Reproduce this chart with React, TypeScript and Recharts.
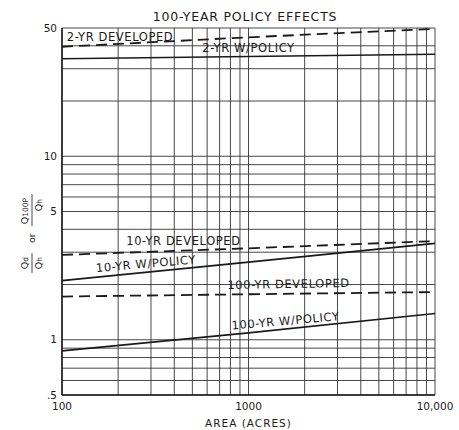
import React from 'react'
import { LineChart, Line, XAxis, YAxis, CartesianGrid, ReferenceDot, Label } from 'recharts'

// values
const areas = [100, 1000, 10000]
const dev2 = [39.5, 44.5, 49.5]
const policy2 = [34, 35, 36]
const dev10 = [2.9, 3.15, 3.45]
const policy10 = [2.1, 2.65, 3.35]
const dev100 = [1.72, 1.77, 1.82]
const policy100 = [0.87, 1.09, 1.39]

const xTicks = [100, 200, 300, 400, 500, 600, 700, 800, 900, 1000, 2000, 3000, 4000, 5000, 6000, 7000, 8000, 9000, 10000]
const yTicks = [0.5, 0.6, 0.7, 0.8, 0.9, 1, 2, 3, 4, 5, 6, 7, 8, 9, 10, 20, 30, 40, 50]
const xLabels: Record<number, string> = { 100: '100', 1000: '1000', 10000: '10,000' }
const yLabels: Record<number, string> = { 0.5: '.5', 1: '1', 5: '5', 10: '10', 50: '50' }

// curve names, placed in data units
const notes = [
  { text: '2-YR DEVELOPED', area: 106, value: 44.5, angle: 0, anchor: 'start' },
  { text: '2-YR W/POLICY', area: 565, value: 38.5, angle: 0, anchor: 'start' },
  { text: '10-YR DEVELOPED', area: 221, value: 3.42, angle: 0, anchor: 'start' },
  { text: '10-YR W/POLICY', area: 282, value: 2.58, angle: -5, anchor: 'middle' },
  { text: '100-YR DEVELOPED', area: 1640, value: 2.0, angle: -1, anchor: 'middle' },
  { text: '100-YR W/POLICY', area: 1580, value: 1.26, angle: -5, anchor: 'middle' },
]

const data = areas.map((area, i) => ({
  area,
  dev2: dev2[i],
  policy2: policy2[i],
  dev10: dev10[i],
  policy10: policy10[i],
  dev100: dev100[i],
  policy100: policy100[i],
}))

const FONT = '"DejaVu Sans", sans-serif'
const INK = '#1a1a1a'

function noteLabel(text: string, angle: number, anchor: string) {
  return (props: any) => {
    const { x, y, width, height } = props.viewBox
    const cx = x + width / 2
    const cy = y + height / 2
    return (
      <text x={cx} y={cy} textAnchor={anchor as any} dominantBaseline="middle"
        transform={`rotate(${angle} ${cx} ${cy})`}
        style={{ fontFamily: FONT, fontSize: 11.5, letterSpacing: 0.6, fill: INK }}>
        {text}
      </text>
    )
  }
}

function YTitle(props: any) {
  const { x, y, height } = props.viewBox
  const cx = x + 11
  const cy = y + height * 0.567
  const fs = 9.5
  return (
    <g transform={`translate(${cx} ${cy}) rotate(-90)`} style={{ fontFamily: FONT, fontSize: fs, fill: INK }}>
      <text x={-27} y={-4} textAnchor="middle">Q<tspan fontSize={7.5}>d</tspan></text>
      <line x1={-37} x2={-17} y1={0} y2={0} stroke={INK} strokeWidth={0.8} />
      <text x={-27} y={10} textAnchor="middle">Q<tspan fontSize={7.5}>h</tspan></text>
      <text x={-2} y={3} textAnchor="middle">or</text>
      <text x={25} y={-4} textAnchor="middle">Q<tspan fontSize={7.5}>100P</tspan></text>
      <line x1={10} x2={42} y1={0} y2={0} stroke={INK} strokeWidth={0.8} />
      <text x={31} y={10} textAnchor="middle">Q<tspan fontSize={7.5}>h</tspan></text>
    </g>
  )
}

export default function App() {
  return (
    <div style={{ position: 'absolute', left: 0, top: 0, width: 459, height: 430, background: '#fff' }}>
      <div style={{ position: 'absolute', left: 0, width: 490, top: 9, textAlign: 'center',
        fontFamily: FONT, fontSize: 12.5, letterSpacing: 0.8, color: INK }}>
        100-YEAR POLICY EFFECTS
      </div>
      <LineChart width={459} height={430} data={data}
        margin={{ top: 28, right: 24, bottom: 15, left: 21 }}>
        <CartesianGrid stroke="#333" strokeWidth={0.9} />
        <XAxis dataKey="area" type="number" scale="log" domain={[100, 10000]} ticks={xTicks}
          interval={0} tickFormatter={(v) => xLabels[v] ?? ''} tickLine={false} tickSize={0} tickMargin={8}
          axisLine={{ stroke: INK, strokeWidth: 1.5 }} height={20}
          tick={{ fontFamily: FONT, fontSize: 10.5, fill: INK }}>
          <Label value="AREA (ACRES)" position="insideBottom" offset={-12}
            style={{ fontFamily: FONT, fontSize: 10.5, letterSpacing: 1, fill: INK }} />
        </XAxis>
        <YAxis type="number" scale="log" domain={[0.5, 50]} ticks={yTicks} interval={0}
          tickFormatter={(v) => yLabels[v] ?? ''} tickLine={false} tickSize={0} tickMargin={5}
          axisLine={{ stroke: INK, strokeWidth: 1.5 }} width={41} allowDataOverflow
          tick={{ fontFamily: FONT, fontSize: 10.5, fill: INK }}>
          <Label content={YTitle} />
        </YAxis>
        <Line dataKey="dev2" stroke={INK} strokeWidth={1.8} strokeDasharray="11 6" dot={false} isAnimationActive={false} />
        <Line dataKey="policy2" stroke={INK} strokeWidth={1.6} dot={false} isAnimationActive={false} />
        <Line dataKey="dev10" stroke={INK} strokeWidth={1.8} strokeDasharray="11 6" dot={false} isAnimationActive={false} />
        <Line dataKey="policy10" stroke={INK} strokeWidth={1.6} dot={false} isAnimationActive={false} />
        <Line dataKey="dev100" stroke={INK} strokeWidth={1.8} strokeDasharray="11 6" dot={false} isAnimationActive={false} />
        <Line dataKey="policy100" stroke={INK} strokeWidth={1.6} dot={false} isAnimationActive={false} />
        {notes.map((n) => (
          <ReferenceDot key={n.text} x={n.area} y={n.value} r={1} fillOpacity={0} strokeOpacity={0}
            label={{ content: noteLabel(n.text, n.angle, n.anchor) }} />
        ))}
      </LineChart>
    </div>
  )
}
